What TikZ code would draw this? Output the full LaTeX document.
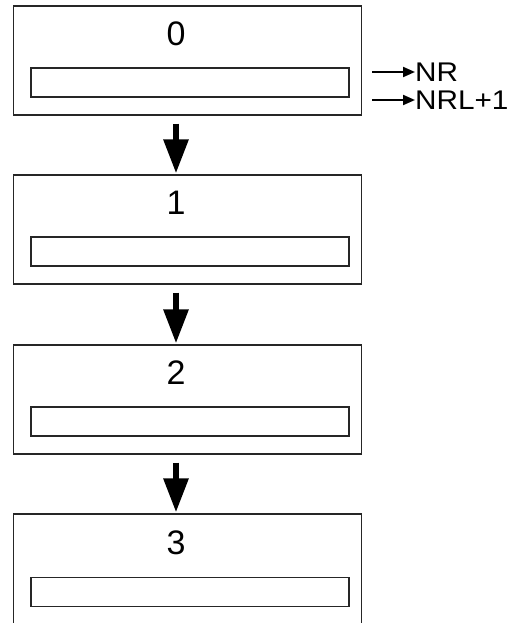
\documentclass[tikz,border=0pt]{standalone}
\usepackage{fontspec}
\setmainfont{Liberation Sans}
\newfontfamily\labelfont{Liberation Sans}[FakeStretch=1.1]
\usetikzlibrary{arrows.meta}
\begin{document}
\begin{tikzpicture}[x=1pt,y=1pt,
  stage/.style={draw=black!85,line width=1.3pt,minimum width=348pt,minimum height=109pt,inner sep=0pt},
  bar/.style={draw=black!85,line width=1.3pt,minimum width=318pt,minimum height=29pt,inner sep=0pt},
  digit/.style={inner sep=0pt,font=\fontsize{34}{34}\selectfont},
  outlabel/.style={inner sep=0pt,anchor=west,font=\labelfont\fontsize{27}{27}\selectfont},
  flow/.style={line width=6pt,-{Triangle[length=34pt,width=24pt]}},
  outarrow/.style={line width=2pt,-{Triangle[length=12pt,width=10pt]}}]
\useasboundingbox (0,0) rectangle (514,-623);
\clip (0,0) rectangle (514,-623);
% four stages, each with its number and a result bar
\foreach \i/\top in {0/6,1/175,2/345} {
  \node[stage] (s\i) at (187.75,-\top-54.5) {};
  \node[digit] (d\i) at (176,-\top-28) {\i};
  \node[bar] (b\i) at (190,-\top-76.5) {};
}
\node[stage,minimum height=140pt] (s3) at (187.75,-514-70) {};
\node[digit] (d3) at (176,-514-29) {3};
\node[bar] (b3) at (190,-514-78) {};
% flow between stages
\foreach \a/\b in {0/1,1/2,2/3}
  \draw[flow] (s\a.south -| d\a) ++(0,-8) -- ([yshift=1pt]s\b.north -| d\a);
% outputs of the first stage
\node[outlabel] (nr) at (415,-72) {NR};
\node[outlabel] (nrl) at (415,-100) {NRL+1};
\coordinate (nrfrom) at (372,-72);
\coordinate (nrlfrom) at (372,-100);
\draw[outarrow] (nrfrom) -- (nr.west);
\draw[outarrow] (nrlfrom) -- (nrl.west);
\end{tikzpicture}
\end{document}
